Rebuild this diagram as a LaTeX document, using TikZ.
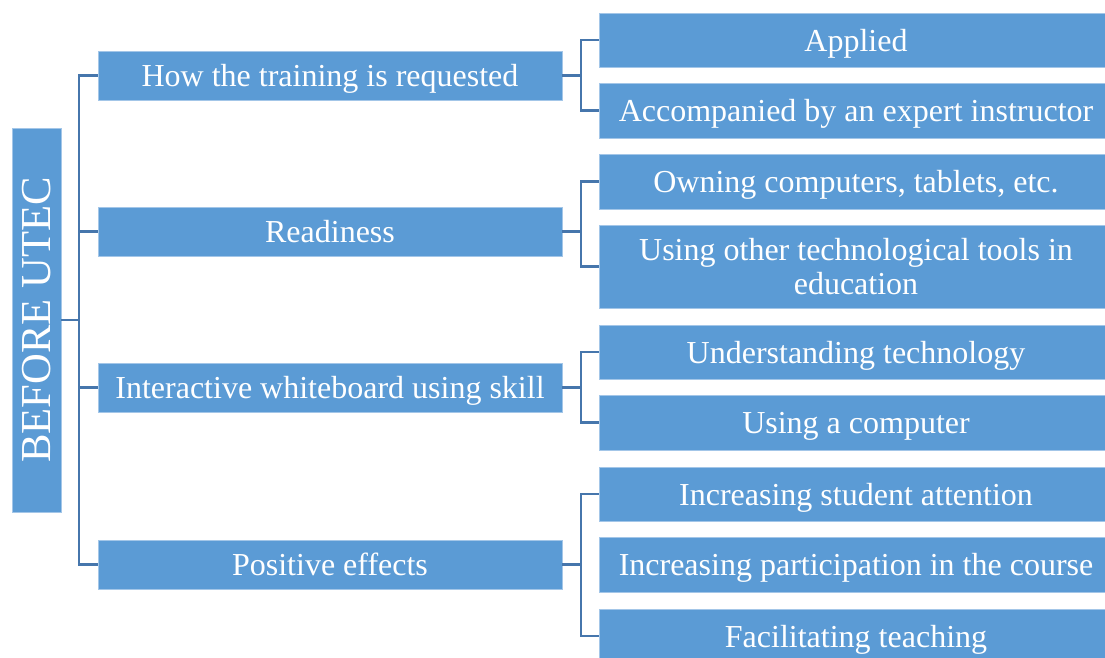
\documentclass[tikz,border=0pt]{standalone}
\usepackage{fontspec}
\setmainfont{Liberation Serif}
\definecolor{boxfill}{HTML}{5B9BD5}
\definecolor{boxline}{HTML}{A3C6E8}
\definecolor{connline}{HTML}{4676AC}
\begin{document}
\begin{tikzpicture}[x=0.75pt,y=-0.75pt,
  box/.style={rectangle, fill=boxfill, draw=boxline, line width=0.6pt, text=white,
    inner sep=0pt, align=center, text depth=0pt, font=\fontsize{24}{25}\selectfont},
  lone/.style={box, minimum width=348pt, minimum height=36.75pt},
  ltwo/.style={box, minimum width=385.5pt},
  conn/.style={draw=connline, line width=2.2pt}]
\useasboundingbox (0,0) rectangle (1105,657);
% root
\node[box, rotate=90, minimum width=288pt, minimum height=36.75pt,
  font=\fontsize{32}{34}\selectfont] (root) at (36.5,320) {BEFORE UTEC};
% level 1
\node[lone] (la) at (330,75.5) {How the training is requested};
\node[lone] (lb) at (330,231.5) {Readiness};
\node[lone] (lc) at (330,387.5) {Interactive whiteboard using skill};
\node[lone] (ld) at (330,564.5) {Positive effects};
% level 2
\node[ltwo, minimum height=40.5pt] (a1) at (856,40) {Applied};
\node[ltwo, minimum height=41.25pt] (a2) at (856,110.5) {Accompanied by an expert instructor};
\node[ltwo, minimum height=41.25pt] (b1) at (856,181.5) {Owning computers, tablets, etc.};
\node[ltwo, minimum height=62.25pt] (b2) at (856,266.5) {Using other technological tools in\\education};
\node[ltwo, minimum height=40.5pt] (c1) at (856,352) {Understanding technology};
\node[ltwo, minimum height=41.25pt] (c2) at (856,422.5) {Using a computer};
\node[ltwo, minimum height=40.5pt] (d1) at (856,494) {Increasing student attention};
\node[ltwo, minimum height=41.25pt] (d2) at (856,564.5) {Increasing participation in the course};
\node[ltwo, minimum height=40.5pt] (d3) at (856,636) {Facilitating teaching};
% connectors root -> level 1
\coordinate (rx) at (79,0);
\coordinate (bx) at (581,0);
\draw[conn] (root.south) -- (root.south -| rx);
\draw[conn] (la.west) -- (la.west -| rx) -- (ld.west -| rx) -- (ld.west);
\draw[conn] (lb.west -| rx) -- (lb.west);
\draw[conn] (lc.west -| rx) -- (lc.west);
% level 1 -> level 2
\draw[conn] (la.east) -- (la.east -| bx);
\draw[conn] (a1.west) -- (a1.west -| bx) -- (a2.west -| bx) -- (a2.west);
\draw[conn] (lb.east) -- (lb.east -| bx);
\draw[conn] (b1.west) -- (b1.west -| bx) -- (b2.west -| bx) -- (b2.west);
\draw[conn] (lc.east) -- (lc.east -| bx);
\draw[conn] (c1.west) -- (c1.west -| bx) -- (c2.west -| bx) -- (c2.west);
\draw[conn] (ld.east) -- (ld.east -| bx);
\draw[conn] (d1.west) -- (d1.west -| bx) -- (d3.west -| bx) -- (d3.west);
\end{tikzpicture}
\end{document}
